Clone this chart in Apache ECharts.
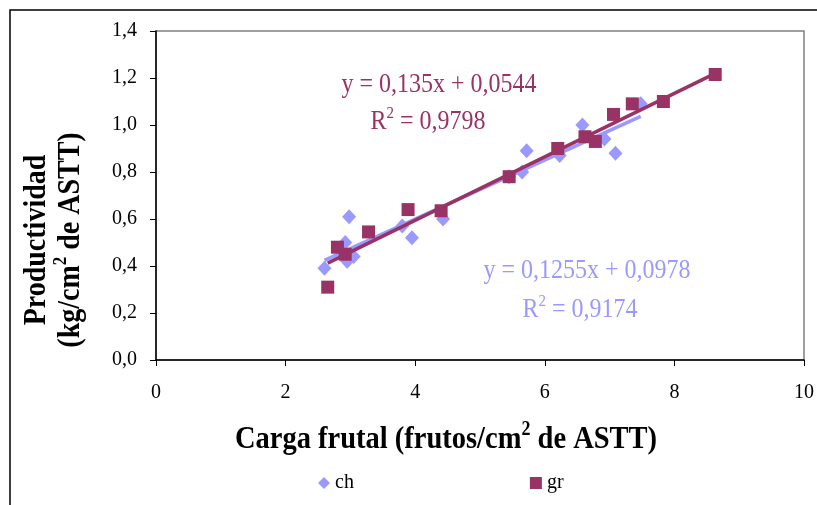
<!DOCTYPE html>
<html>
<head>
<meta charset="utf-8">
<script src="https://cdn.jsdelivr.net/npm/echarts@6/dist/echarts.min.js"></script>
<style>
  html, body { margin: 0; padding: 0; background: #fff; }
  #chart { width: 817px; height: 505px; }
</style>
</head>
<body>
<div id="chart"></div>
<script>
// Fruit load (frutos/cm² ASTT) vs productivity (kg/cm² ASTT) for two varieties
var chX = [2.60, 2.92, 2.95, 2.98, 3.05, 3.80, 3.95, 4.43, 5.45, 5.65, 5.72, 6.23, 6.58, 6.92, 7.09, 7.48];
var chY = [0.39, 0.50, 0.42, 0.61, 0.44, 0.57, 0.52, 0.60, 0.78, 0.80, 0.89, 0.87, 1.00, 0.94, 0.88, 1.09];
var grX = [2.65, 2.80, 2.92, 3.28, 3.89, 4.40, 5.45, 6.20, 6.62, 6.78, 7.06, 7.35, 7.83, 8.63];
var grY = [0.31, 0.48, 0.45, 0.545, 0.64, 0.635, 0.78, 0.90, 0.95, 0.93, 1.045, 1.09, 1.10, 1.215];

// Linear trend coefficients [slope, intercept] and R² as printed on the chart
var chFit = [0.1255, 0.0978];
var grFit = [0.135, 0.0544];
var chR2 = '0,9174';
var grR2 = '0,9798';

var seriesNames = ['ch', 'gr'];
var xTicks = [0, 2, 4, 6, 8, 10];
var yTicks = [0, 0.2, 0.4, 0.6, 0.8, 1.0, 1.2, 1.4];

var chColor = '#9999FF';
var grColor = '#993366';
var serif = '"Liberation Serif", "Times New Roman", serif';

function pairs(xs, ys) {
  return xs.map(function (x, i) { return [x, ys[i]]; });
}
function trend(xs, fit) {
  var lo = Math.min.apply(null, xs), hi = Math.max.apply(null, xs);
  return [[lo, fit[0] * lo + fit[1]], [hi, fit[0] * hi + fit[1]]];
}
function fmtNum(v) { return String(v).replace('.', ','); }
function eqText(fit) {
  return 'y = ' + fmtNum(fit[0]) + 'x + ' + fmtNum(fit[1]);
}

// text block with an optional raised "2"
function label(x, y, text, color, size, bold, rot) {
  var weight = bold ? 'bold' : 'normal';
  var lh = Math.round(size * 1.25);
  return {
    type: 'text', x: x, y: y, rotation: rot || 0, scaleY: 1.12, silent: true,
    style: {
      text: text, fill: color, align: 'center', verticalAlign: 'middle',
      fontFamily: serif, fontSize: size, fontWeight: weight, lineHeight: lh,
      rich: {
        sup: { fontFamily: serif, fontSize: Math.round(size * 0.62), fontWeight: weight,
               fill: color, verticalAlign: 'top', lineHeight: Math.round(size * 0.7) }
      }
    }
  };
}

var chart = echarts.init(document.getElementById('chart'), null, { renderer: 'canvas' });

chart.setOption({
  animation: false,
  backgroundColor: '#fff',
  textStyle: { fontFamily: serif },
  grid: { left: 156, top: 31, right: 11, bottom: 145, show: true, borderColor: '#808080', borderWidth: 1.5, backgroundColor: 'transparent' },
  xAxis: {
    type: 'value', min: xTicks[0], max: xTicks[xTicks.length - 1], interval: 2,
    axisLine: { lineStyle: { color: '#000', width: 1.5 } },
    axisTick: { show: true, length: 6, inside: false, lineStyle: { color: '#000', width: 1 } },
    axisLabel: { color: '#000', fontSize: 20, fontFamily: serif, margin: 23 },
    splitLine: { show: false }
  },
  yAxis: {
    type: 'value', min: yTicks[0], max: yTicks[yTicks.length - 1], interval: 0.2,
    axisLine: { show: true, lineStyle: { color: '#000', width: 1.5 } },
    axisTick: { show: true, length: 6, lineStyle: { color: '#000', width: 1 } },
    axisLabel: { color: '#000', fontSize: 20, fontFamily: serif, margin: 19,
      formatter: function (v) { return v.toFixed(1).replace('.', ','); } },
    splitLine: { show: false }
  },
  legend: {
    data: [
      { name: seriesNames[0], icon: 'diamond' },
      { name: seriesNames[1], icon: 'rect' }
    ],
    left: 313, top: 468, itemWidth: 12, itemHeight: 12, itemGap: 176,
    textStyle: { fontSize: 20, fontFamily: serif, color: '#000' }
  },
  series: [
    {
      name: seriesNames[0] + ' trend', type: 'line', data: trend(chX, chFit),
      symbol: 'none', lineStyle: { color: chColor, width: 3.5 }, z: 2, silent: true
    },
    {
      name: seriesNames[1] + ' trend', type: 'line', data: trend(grX, grFit),
      symbol: 'none', lineStyle: { color: grColor, width: 3.5 }, z: 4, silent: true
    },
    {
      name: seriesNames[0], type: 'scatter', data: pairs(chX, chY),
      symbol: 'diamond', symbolSize: [14, 15], itemStyle: { color: chColor, opacity: 1 }, z: 3
    },
    {
      name: seriesNames[1], type: 'scatter', data: pairs(grX, grY),
      symbol: 'rect', symbolSize: 13, itemStyle: { color: grColor, opacity: 1 }, z: 5
    }
  ],
  graphic: [
    { type: 'rect', shape: { x: 10, y: 10, width: 900, height: 600 },
      style: { fill: 'none', stroke: '#000', lineWidth: 1.5 }, silent: true, z: -1 },
    label(439, 85, eqText(grFit), grColor, 24, false),
    label(428, 122, 'R{sup|2} = ' + grR2, grColor, 24, false),
    label(587, 271, eqText(chFit), chColor, 24, false),
    label(580, 310, 'R{sup|2} = ' + chR2, chColor, 24, false),
    label(446, 440, 'Carga frutal (frutos/cm{sup|2} de ASTT)', '#000', 28.5, true),
    label(37, 240, 'Productividad', '#000', 28, true, Math.PI / 2),
    label(71, 240, '(kg/cm{sup|2} de ASTT)', '#000', 28, true, Math.PI / 2)
  ]
});
</script>
</body>
</html>
